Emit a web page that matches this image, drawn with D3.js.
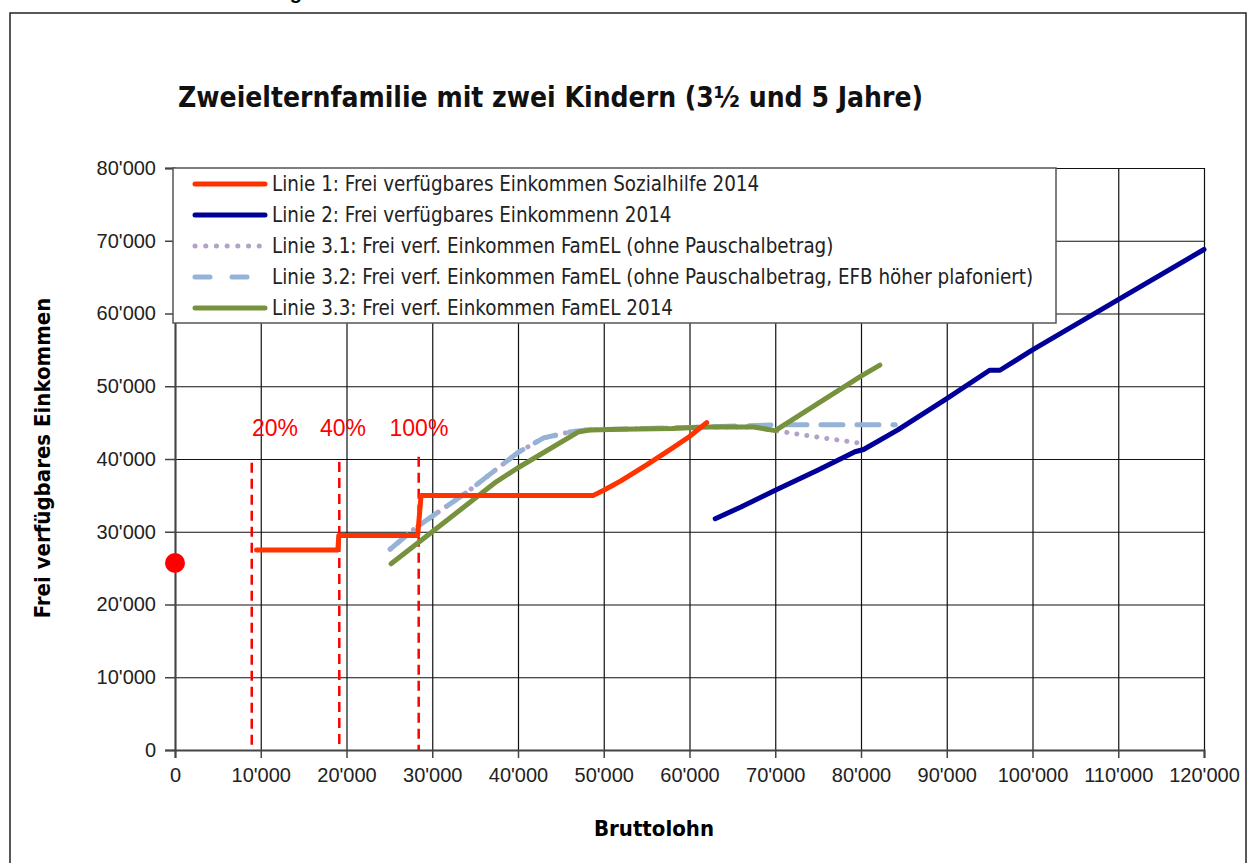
<!DOCTYPE html>
<html>
<head>
<meta charset="utf-8">
<script src="https://cdn.jsdelivr.net/npm/d3@7"></script>
<style>
  body { margin: 0; background: #fff; }
  svg { display: block; }
  .tick text { font-family: "Liberation Sans", Arial, sans-serif; font-size: 20px; fill: #222; }
</style>
</head>
<body>
<svg id="chart" width="1249" height="863"></svg>
<script>
// Werte (Bruttolohn, frei verfügbares Einkommen)
const linie1 = [[9500,27500],[19000,27500],[19100,29500],[28300,29500],[28700,35000],[48800,35000],[50000,35700],[52000,37000],[55000,39200],[58000,41500],[60000,43100],[62000,45000]];
const linie2 = [[63000,31800],[66000,33400],[70000,35700],[75000,38500],[79300,41000],[80300,41300],[84300,44000],[90000,48300],[95000,52200],[96200,52200],[100000,55000],[110000,61900],[120000,68800]];
const linie31 = [[25100,27600],[28000,30500],[34000,35400],[40000,40900],[43000,42900],[46000,43700],[48000,44000],[55000,44200],[62000,44400],[67500,44400],[70000,43900],[75000,43000],[80300,42100]];
const linie32 = [[25100,27600],[28000,30500],[34000,35400],[40000,40900],[43000,42900],[46000,43700],[48000,44000],[55000,44200],[62000,44400],[67500,44600],[70000,44700],[84000,44700]];
const linie33 = [[25200,25600],[30000,30000],[37500,36900],[40000,38800],[47000,43700],[48500,44000],[52000,44100],[58000,44200],[62000,44400],[67500,44400],[70000,43900],[76000,48400],[80000,51400],[82200,52900]];

const xTicks = [0,10000,20000,30000,40000,50000,60000,70000,80000,90000,100000,110000,120000];
const yTicks = [0,10000,20000,30000,40000,50000,60000,70000,80000];

// Schwellen (20%, 40%, 100%)
const schwellenX = [8950, 19160, 28420];
const schwellenTop = [39500, 39600, 40300];
const schwellenLabel = ["20%", "40%", "100%"];
const labelX = [11650, 19600, 28450];
const labelY = 44200;

const punkt = [0, 25700];

const serien = [
    { name: "Linie 1: Frei verfügbares Einkommen Sozialhilfe 2014", data: linie1, cor: "#ff3300", dash: null, legDash: null },
    { name: "Linie 2: Frei verfügbares Einkommenn 2014", data: linie2, cor: "#000099", dash: null, legDash: null },
    { name: "Linie 3.1: Frei verf. Einkommen FamEL (ohne Pauschalbetrag)", data: linie31, cor: "#b3a2c7", dash: "0.1,10", legDash: "0.1,10.6" },
    { name: "Linie 3.2: Frei verf. Einkommen FamEL (ohne Pauschalbetrag, EFB höher plafoniert)", data: linie32, cor: "#95b3d7", dash: "22,14", legDash: "15,22" },
    { name: "Linie 3.3: Frei verf. Einkommen FamEL 2014", data: linie33, cor: "#76923c", dash: null, legDash: null }
];

var svg = d3.select("#chart"),
    width = +svg.attr("width"),
    height = +svg.attr("height");

var plotLeft = 175, plotRight = 1204, plotTop = 168, plotBottom = 750;

var x = d3.scaleLinear().domain([0, 120000]).range([plotLeft, plotRight]);
var y = d3.scaleLinear().domain([0, 80000]).range([plotBottom, plotTop]);
var fmt = v => d3.format(",")(v).replace(/,/g, "'");

// cut off text from the page above
svg.append("text")
    .attr("x", 302).attr("y", -1)
    .attr("text-anchor", "end")
    .style("font-family", "Liberation Sans, Arial, sans-serif")
    .style("font-weight", "bold").style("font-size", "20px")
    .text("Abbildung");

// outer frame
svg.append("rect")
    .attr("x", 10).attr("y", 13)
    .attr("width", 1236).attr("height", 900)
    .attr("fill", "none").attr("stroke", "#222").attr("stroke-width", 1.5);

svg.append("text")
    .attr("x", 178).attr("y", 107)
    .style("font-family", "Liberation Sans Narrow, DejaVu Sans Condensed, sans-serif")
    .style("font-weight", "bold").style("font-size", "28px")
    .attr("fill", "#111")
    .text("Zweielternfamilie mit zwei Kindern (3½ und 5 Jahre)");

// grid
svg.append("g")
    .attr("transform", "translate(0," + plotBottom + ")")
    .call(d3.axisBottom(x).tickValues(xTicks).tickSize(-(plotBottom - plotTop)).tickFormat(""))
    .call(g => g.select(".domain").remove())
    .call(g => g.selectAll("line").attr("stroke", "#111").attr("stroke-width", 1.2));

svg.append("g")
    .attr("transform", "translate(" + plotLeft + ",0)")
    .call(d3.axisLeft(y).tickValues(yTicks).tickSize(-(plotRight - plotLeft)).tickFormat(""))
    .call(g => g.select(".domain").remove())
    .call(g => g.selectAll("line").attr("stroke", "#111").attr("stroke-width", 1.2));

// axes
svg.append("g")
    .attr("transform", "translate(0," + plotBottom + ")")
    .call(d3.axisBottom(x).tickValues(xTicks).tickSize(8).tickPadding(10).tickFormat(fmt))
    .call(g => g.select(".domain").attr("stroke", "#444").attr("stroke-width", 2))
    .call(g => g.selectAll("line").attr("stroke", "#444").attr("stroke-width", 1.5));

svg.append("g")
    .attr("transform", "translate(" + plotLeft + ",0)")
    .call(d3.axisLeft(y).tickValues(yTicks).tickSize(10).tickPadding(9).tickFormat(fmt))
    .call(g => g.select(".domain").attr("stroke", "#444").attr("stroke-width", 2))
    .call(g => g.selectAll("line").attr("stroke", "#444").attr("stroke-width", 1.5));

// axis titles
svg.append("text")
    .attr("transform", "translate(50,458) rotate(-90)")
    .attr("text-anchor", "middle")
    .style("font-family", "Liberation Sans Narrow, DejaVu Sans Condensed, sans-serif")
    .style("font-weight", "bold").style("font-size", "22px")
    .text("Frei verfügbares Einkommen");

svg.append("text")
    .attr("x", 654).attr("y", 836)
    .attr("text-anchor", "middle")
    .style("font-family", "Liberation Sans Narrow, DejaVu Sans Condensed, sans-serif")
    .style("font-weight", "bold").style("font-size", "22px")
    .text("Bruttolohn");

// legend box
var legX = plotLeft - 2, legY = plotTop, legW = 1056 - legX, legH = 323 - plotTop;
var legenda = svg.append("g").attr("id", "legenda");
legenda.append("rect")
    .attr("x", legX).attr("y", legY)
    .attr("width", legW).attr("height", legH)
    .attr("fill", "#fff").attr("stroke", "#555").attr("stroke-width", 1.5);

var itens = legenda.selectAll("g.itemLegenda")
    .data(serien)
    .enter()
    .append("g")
    .attr("class", "itemLegenda")
    .attr("transform", function (d, i) { return "translate(0," + (184 + i * 31) + ")"; });

itens.append("line")
    .attr("x1", 195).attr("x2", 265)
    .attr("stroke", d => d.cor)
    .attr("stroke-width", 5)
    .attr("stroke-linecap", "round")
    .attr("stroke-dasharray", d => d.legDash);

itens.append("text")
    .attr("x", 272).attr("y", 7)
    .style("font-family", "Liberation Sans Narrow, DejaVu Sans Condensed, sans-serif")
    .style("font-size", "20.4px")
    .attr("fill", "#222")
    .text(d => d.name);

// threshold markers
svg.selectAll("line.schwelle")
    .data(schwellenX)
    .enter()
    .append("line")
    .attr("class", "schwelle")
    .attr("x1", d => x(d)).attr("x2", d => x(d))
    .attr("y1", (d, i) => y(schwellenTop[i])).attr("y2", y(0))
    .attr("stroke", "#ff0000").attr("stroke-width", 2.5)
    .attr("stroke-dasharray", "10,6");

svg.selectAll("text.schwelle")
    .data(schwellenLabel)
    .enter()
    .append("text")
    .attr("class", "schwelle")
    .attr("x", (d, i) => x(labelX[i])).attr("y", y(labelY) + 8)
    .attr("text-anchor", "middle")
    .style("font-family", "Liberation Sans, Arial, sans-serif")
    .style("font-size", "23px")
    .attr("fill", "#ff0000")
    .text(d => d);

// series
var line = d3.line().x(d => x(d[0])).y(d => y(d[1]));
var ordem = [2, 3, 4, 1, 0];
ordem.forEach(function (i) {
    var s = serien[i];
    svg.append("path")
        .datum(s.data)
        .attr("d", line)
        .attr("fill", "none")
        .attr("stroke", s.cor)
        .attr("stroke-width", 5)
        .attr("stroke-linecap", "round")
        .attr("stroke-linejoin", "round")
        .attr("stroke-dasharray", s.dash);
});

svg.append("circle")
    .attr("cx", x(punkt[0])).attr("cy", y(punkt[1]))
    .attr("r", 10)
    .attr("fill", "#ff0000");
</script>
</body>
</html>
